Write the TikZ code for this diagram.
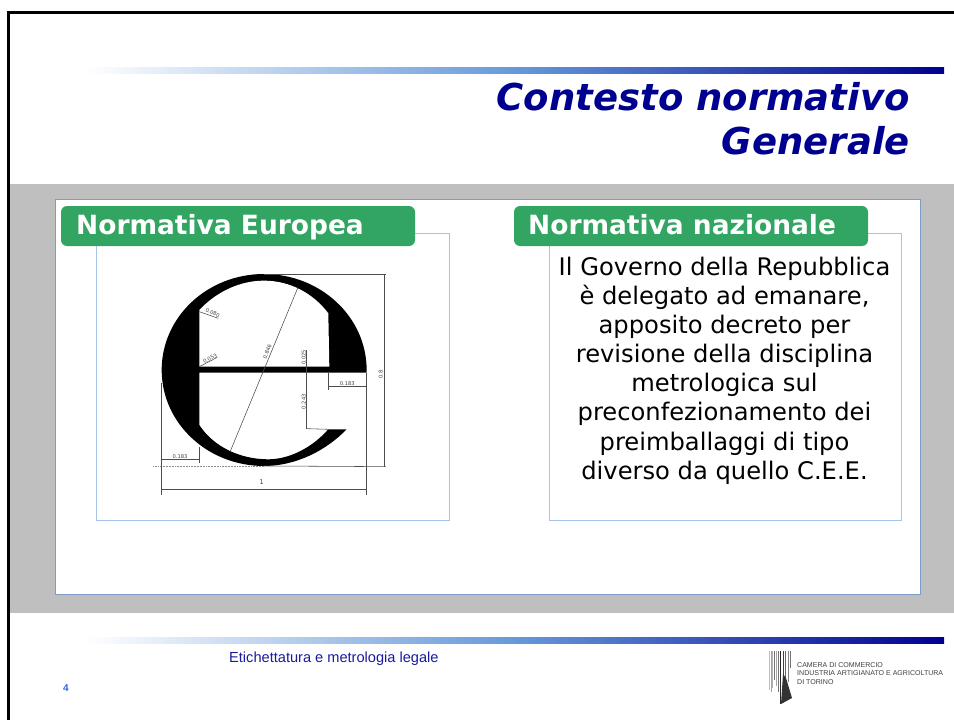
\documentclass[tikz,border=0pt]{standalone}
\usepackage{fontspec}
\setmainfont{DejaVu Sans}
\newfontfamily\footfont{Liberation Sans}
\definecolor{navy}{HTML}{000090}
\definecolor{midblue}{HTML}{6699D9}
\definecolor{panelgray}{HTML}{BFBFBF}
\definecolor{paneledge}{HTML}{7F9CC8}
\definecolor{boxedge}{HTML}{A6C4EA}
\definecolor{tabgreen}{HTML}{33A563}
\definecolor{footblue}{HTML}{1A1AA0}
\definecolor{numblue}{HTML}{3366E0}
\tikzset{
  rulebar/.style={draw=none,left color=white,right color=navy,middle color=midblue},
  contentbox/.style={draw=boxedge,line width=0.9pt,fill=white},
  tabbox/.style={fill=tabgreen,rounded corners=6pt,minimum height=40pt,minimum width=354pt,inner sep=0pt},
  tabtext/.style={text=white,font=\fontsize{26.45}{30}\selectfont\bfseries,anchor=base west,inner sep=0pt},
  titletext/.style={text=navy,font=\fontsize{37}{44}\selectfont\bfseries\itshape,anchor=base east,inner sep=0pt},
  dimline/.style={draw=black!70,line width=0.55pt},
  dimtext/.style={text=black!75,font=\fontsize{5.2}{6}\selectfont,inner sep=0pt},
  logotext/.style={text=black!75,font=\footfont\fontsize{7.05}{8.5}\selectfont,align=left,anchor=west,inner sep=0pt},
}
\begin{document}
\begin{tikzpicture}[x=1pt,y=-1pt]
\useasboundingbox (0,0) rectangle (954,720);
\fill[white] (0,0) rectangle (954,720);
% slide frame
\draw[black,line width=2.2pt] (8.5,720) -- (8.5,12.5) -- (954,12.5);
% top rule and title
\shade[rulebar] (85,67) rectangle (944,73.5);
\node[titletext] (titleA) at (910,110) {Contesto normativo};
\node[titletext] (titleB) at (910,154) {Generale};
% grey band and panel
\fill[panelgray] (9.6,184) rectangle (954,613);
\draw[draw=paneledge,line width=0.9pt,fill=white] (55.5,199.5) rectangle (920,594);
% content boxes
\draw[contentbox] (96.5,233) rectangle (449,520.5);
\draw[contentbox] (549,233) rectangle (901,520.5);
% tabs
\node[tabbox] (tabL) at (238,226) {};
\node[tabtext] (tabLt) at (76,234) {Normativa Europea};
\node[tabbox] (tabR) at (691,226) {};
\node[tabtext] (tabRt) at (528,234) {Normativa nazionale};
% body text
\node[text=black,font=\fontsize{24.2}{29.15}\selectfont,align=center,inner sep=0pt] (body) at (724.5,370.5) {Il Governo della Repubblica\\è delegato ad emanare,\\apposito decreto per\\revisione della disciplina\\metrologica sul\\preconfezionamento dei\\preimballaggi di tipo\\diverso da quello C.E.E.};
% e-mark
\begin{scope}[shift={(140,250)},x=0.3333pt,y=-0.3333pt]
  \fill[black] (680,368) -- (680,360) .. controls (680,201) and (542,72) .. (372,72)
    .. controls (202,72) and (65,201) .. (65,360)
    .. controls (65,519) and (202,648) .. (372,648)
    .. controls (470,648) and (560,600) .. (620,538)
    -- (565,538) .. controls (510,600) and (440,628) .. (385,628)
    .. controls (300,628) and (220,590) .. (178,525)
    -- (178,368) -- cycle;
  \fill[white] (178,350) -- (178,180) .. controls (230,125) and (300,92) .. (372,92)
    .. controls (450,92) and (520,130) .. (565,190) -- (568,350) -- cycle;
  % dimension lines
  \draw[dimline] (372,72) -- (738,72);
  \draw[dimline] (372,648) -- (738,650);
  \draw[dimline,densely dotted,draw=black!45] (40,650) -- (372,650);
  \draw[dimline] (734,72) -- (734,650);
  \draw[dimline] (63,400) -- (63,735);
  \draw[dimline] (680,368) -- (680,735);
  \draw[dimline] (63,718) -- (680,718);
  \draw[dimline] (63,628) -- (178,628);
  \draw[dimline] (178,590) -- (178,640);
  \draw[dimline] (565,368) -- (565,420);
  \draw[dimline] (565,410) -- (680,410);
  \draw[dimline] (474,112) -- (270,606);
  \draw[dimline] (500,300) -- (500,538);
  \draw[dimline] (500,536) -- (565,538);
  \draw[dimline] (178,185) -- (235,205);
  \draw[dimline] (178,350) -- (232,322);
  \node[dimtext,rotate=-25] (d1) at (218,188) {0.080};
  \node[dimtext,rotate=28] (d2) at (210,326) {0.053};
  \node[dimtext,rotate=68] (d3) at (382,305) {0.846};
  \node[dimtext,rotate=90] (d4) at (491,322) {0.025};
  \node[dimtext,rotate=90] (d5) at (491,455) {0.243};
  \node[dimtext] (d6) at (622,401) {0.183};
  \node[dimtext] (d7) at (120,620) {0.183};
  \node[dimtext,rotate=90] (d8) at (722,373) {0.8};
  \node[dimtext,font=\fontsize{6.5}{7}\selectfont] (d9) at (365,697) {1};
\end{scope}
% footer
\shade[rulebar] (85,637) rectangle (944,643);
\node[text=footblue,font=\footfont\fontsize{14.6}{16}\selectfont,anchor=west,inner sep=0pt] (foot) at (229,659) {Etichettatura e metrologia legale};
\node[text=numblue,font=\footfont\fontsize{10}{11}\selectfont\bfseries,inner sep=0pt] (num) at (66,688) {4};
% logo
\foreach \x/\yb/\g in {769.5/690/25,771/692/35,772.5/688/30,774/680/55,776/686/35,778/692/55,780/704/85,783/701/75,785/690/60,788/682/50,790.5/668/55}{
  \draw[black!\g,line width=0.7pt] (\x,651) -- (\x,\yb);
}
\fill[black!80] (783,674) -- (786,678) -- (792,698) -- (781,704) -- cycle;
\node[logotext] (logo) at (797,673.5) {CAMERA DI COMMERCIO\\INDUSTRIA ARTIGIANATO E AGRICOLTURA\\DI TORINO};
\end{tikzpicture}
\end{document}
